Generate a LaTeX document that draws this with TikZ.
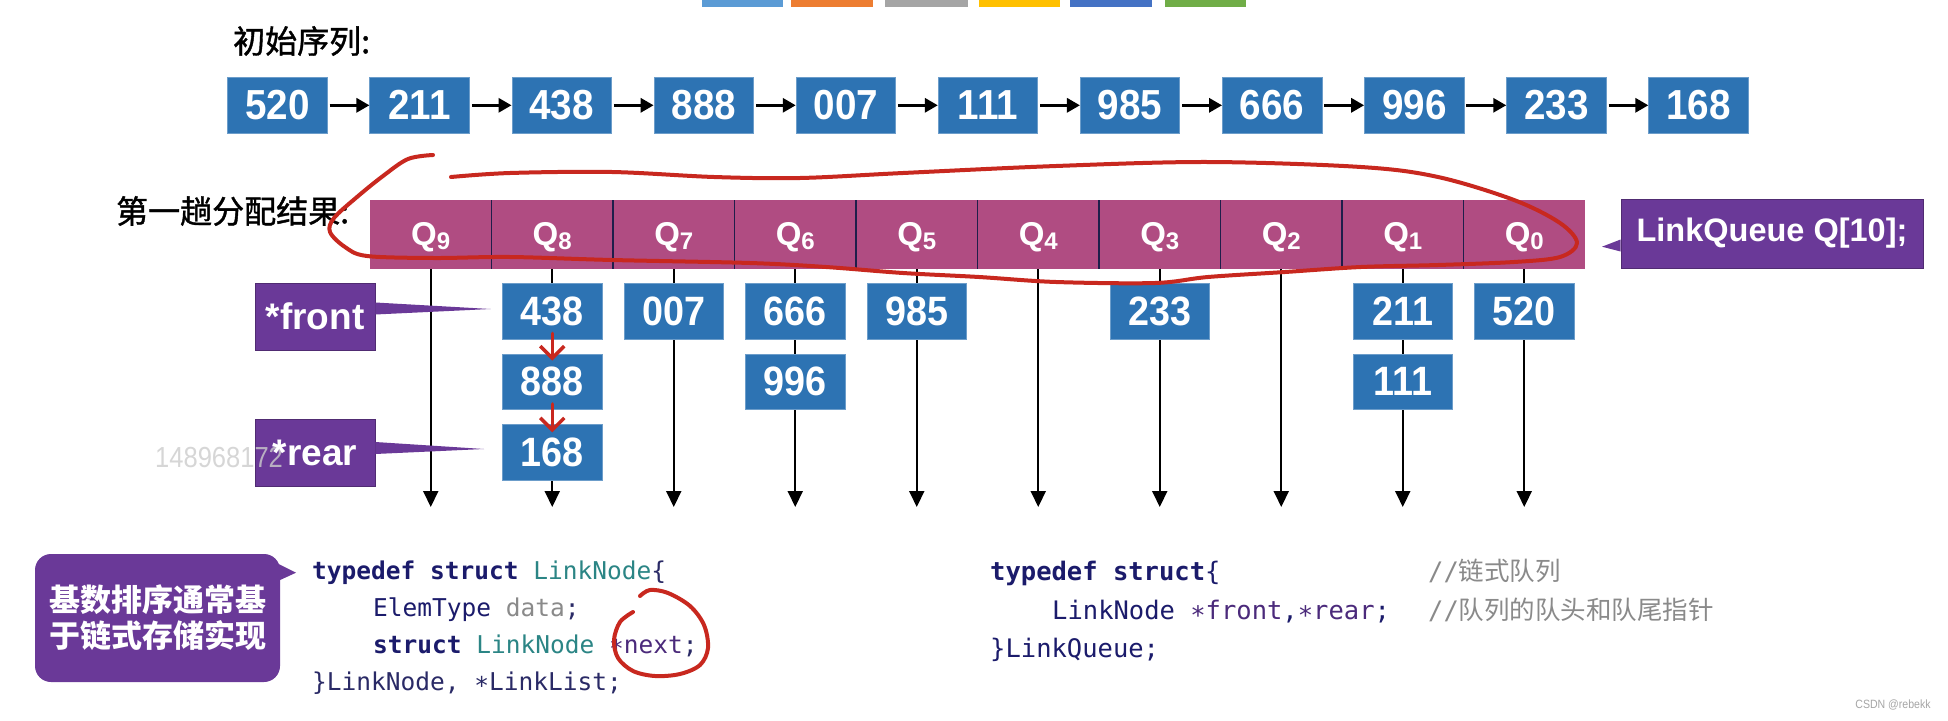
\documentclass[tikz,border=0pt]{standalone}
\usepackage{fontspec}
\setmainfont{Liberation Sans}
\newfontfamily\cjk{Noto Sans CJK SC}
\newfontfamily\cjkhead[FakeBold=1.2]{Noto Sans CJK SC}
\newfontfamily\numfont[FakeStretch=0.88]{Liberation Sans}
\newfontfamily\digfont[FakeStretch=0.92]{Liberation Sans Bold}
\newfontfamily\codefont{DejaVu Sans Mono}
\newcommand\lowstar{\raisebox{-0.2em}{*}}
\usetikzlibrary{arrows.meta}
\definecolor{boxblue}{HTML}{2D73B3}
\definecolor{qmag}{HTML}{B04C82}
\definecolor{qline}{HTML}{1E1E4A}
\definecolor{ppl}{HTML}{6A3998}
\definecolor{annred}{HTML}{C8281F}
\definecolor{kwnavy}{HTML}{1B1B6B}
\definecolor{codeteal}{HTML}{2B8585}
\definecolor{codegray}{HTML}{8A8A8A}
\definecolor{codepurple}{HTML}{4B2A7B}
\definecolor{codedark}{HTML}{2A2A66}
\definecolor{offblue}{HTML}{5B9BD5}
\definecolor{offorange}{HTML}{ED7D31}
\definecolor{offgray}{HTML}{A5A5A5}
\definecolor{offyellow}{HTML}{FFC000}
\definecolor{offblue2}{HTML}{4472C4}
\definecolor{offgreen}{HTML}{70AD47}
\begin{document}
\begin{tikzpicture}[x=1pt,y=-1pt,
  topbox/.style={fill=boxblue, draw=boxblue!70!white, line width=0.8pt, minimum width=99.5pt, minimum height=56pt, inner sep=0pt, text=white, font=\digfont\fontsize{42}{42}\selectfont},
  valbox/.style={fill=boxblue, draw=boxblue!70!white, line width=0.8pt, minimum width=99.5pt, minimum height=55.5pt, inner sep=0pt, text=white, font=\digfont\fontsize{41}{41}\selectfont},
  qcell/.style={fill=qmag, draw=none, minimum width=121.5pt, minimum height=69pt, inner sep=0pt},
  qlab/.style={text=white, font=\bfseries\fontsize{33}{33}\selectfont, inner sep=0pt},
  pbox/.style={fill=ppl, draw=ppl!75!black, line width=0.8pt, text=white, inner sep=0pt, font=\bfseries\fontsize{37}{37}\selectfont},
  plabel/.style={text=white, inner sep=0pt, font=\bfseries\fontsize{37}{37}\selectfont},
  bubble/.style={fill=ppl, rounded corners=16pt, minimum width=245pt, minimum height=128pt, text=white, align=center, inner sep=0pt, font=\cjk\bfseries\fontsize{31}{36}\selectfont},
  flow/.style={-{Triangle[length=13pt,width=14pt]}, line width=3pt, shorten <=2pt},
  vline/.style={-{Triangle[length=16pt,width=15pt]}, line width=2pt},
  redarrow/.style={annred, line width=3.5pt, line cap=round, -{Straight Barb[length=12pt,width=24pt,line width=3.5pt]}},
  redink/.style={annred, line width=4pt, line cap=round, line join=round},
  codeL/.style={anchor=base west, inner sep=0pt, text=codedark, font=\codefont\fontsize{24.5}{24.5}\selectfont},
  codeR/.style={anchor=base west, inner sep=0pt, text=kwnavy, font=\codefont\fontsize{25.5}{25.5}\selectfont},
  heading/.style={anchor=west, inner sep=0pt, text=black, font=\cjkhead\fontsize{32}{32}\selectfont}
]
\useasboundingbox (0,0) rectangle (1948,720);
\fill[white] (0,0) rectangle (1948,720);

% palette squares at the very top
\fill[offblue]   (702,0) rectangle (783,7);
\fill[offorange] (791,0) rectangle (873,7);
\fill[offgray]   (885,0) rectangle (968,7);
\fill[offyellow] (979,0) rectangle (1060,7);
\fill[offblue2]  (1070,0) rectangle (1152,7);
\fill[offgreen]  (1165,0) rectangle (1246,7);

% initial sequence
\node[heading] (h1) at (233,41) {初始序列:};
\foreach \val [count=\k from 0] in {520,211,438,888,007,111,985,666,996,233,168} {
  \node[topbox] (t\k) at ({277.5+142.1*\k},105.3) {\val};
}
\foreach \k [evaluate=\k as \n using int(\k+1)] in {0,...,9} {
  \draw[flow] (t\k) -- (t\n);
}

% first distribution
\node[heading] (h2) at (116,211) {第一趟分配结果:};
\foreach \i [count=\k from 0] in {9,...,0} {
  \pgfmathsetmacro\cx{430.75+121.5*\k}
  \node[qcell] (q\i) at (\cx,234.5) {};
  \coordinate (e\i) at (\cx,507);
}
\foreach \j in {1,...,9} {
  \draw[qline, line width=1.5pt] ({370+121.5*\j},200) -- ({370+121.5*\j},269);
}
\foreach \i [count=\k from 0] in {9,...,0} {
  \pgfmathsetmacro\cx{430.75+121.5*\k}
  \node[qlab] (ql\i) at (\cx,237.5) {Q{\fontsize{24}{24}\selectfont\raisebox{-4pt}{\i}}};
  \draw[vline] (q\i.south) -- (e\i);
}

% LinkQueue callout
\node[pbox, minimum width=302pt, minimum height=69pt, font=\bfseries\fontsize{32.5}{32.5}\selectfont] (lq) at (1772,233.5) {LinkQueue Q[10];};
\coordinate (lqtip) at (1602,246.7);
\fill[ppl] ([yshift=-6pt]lq.west) -- (lqtip) -- ([yshift=-18pt]lq.west) -- cycle;

% bucket contents
\node[valbox] (v438) at (552.25,311.2) {438};
\node[valbox] (v888) at (552.25,381.8) {888};
\node[valbox] (v168) at (552.25,452.6) {168};
\node[valbox] (v007) at (673.75,311.2) {007};
\node[valbox] (v666) at (795.25,311.2) {666};
\node[valbox] (v996) at (795.25,381.8) {996};
\node[valbox] (v985) at (916.75,311.2) {985};
\node[valbox] (v233) at (1159.75,311.2) {233};
\node[valbox] (v211) at (1402.75,311.2) {211};
\node[valbox] (v111) at (1402.75,381.8) {111};
\node[valbox] (v520) at (1524.25,311.2) {520};

% front / rear pointers
\node[pbox, minimum width=120pt, minimum height=67pt] (front) at (315,316.5) {*front};
\coordinate (ftip) at (490.6,309);
\fill[ppl] ([yshift=14pt]front.east) -- (ftip) -- ([yshift=2pt]front.east) -- cycle;
\node[pbox, minimum width=120pt, minimum height=67pt] (rear) at (315,453) {};
\coordinate (rtip) at (484,449);
\fill[ppl] ([yshift=11pt]rear.east) -- (rtip) -- ([yshift=-1pt]rear.east) -- cycle;
\node[anchor=base west, inner sep=0pt, text=gray!40, opacity=0.8, font=\numfont\fontsize{29}{29}\selectfont] (wm) at (155,467) {148968172};
\node[plabel] (reartxt) at (rear.center) {*rear};

% red hand-drawn annotations
\draw[redarrow] ([yshift=6pt]v438.south) -- ([yshift=-7pt]v888.north);
\draw[redarrow] ([yshift=6pt]v888.south) -- ([yshift=-8pt]v168.north);
\draw[redink] plot[smooth, tension=0.55] coordinates {
  (451,177) (510,173) (612,172) (714,177) (800,178) (903,173) (1056,166) (1208,162)
  (1361,167) (1438,177) (1514,200) (1560,223) (1577,243) (1560,257) (1514,262)
  (1438,265) (1361,267) (1285,272) (1208,277) (1155,283) (1056,282) (979,277)
  (903,273) (826,267) (750,263) (612,260) (510,257) (434,258) (367,256) (345,247)
  (330,232) (334,218) (357,197) (383,176) (408,159) (433,155)};

% speech bubble
\node[bubble] (bub) at (157.5,618) {基数排序通常基\\于链式存储实现};
\coordinate (btip) at (296,572.7);
\fill[ppl] ([xshift=-4pt,yshift=-9pt]bub.north east) -- (btip) -- ([xshift=-4pt,yshift=-28pt]bub.north east) -- cycle;

% left code
\node[codeL] (c1) at (312,579) {{\bfseries\color{kwnavy}typedef struct} {\color{codeteal}LinkNode}\{};
\node[codeL] (c2) at (373,616) {{\color{kwnavy}ElemType} {\color{codegray}data};};
\node[codeL] (c3) at (373,653) {{\bfseries\color{kwnavy}struct} {\color{codeteal}LinkNode} {\color{codepurple}\lowstar next};};
\node[codeL] (c4) at (312,690) {\}LinkNode, \lowstar LinkList;};
\draw[redink] plot[smooth, tension=0.55] coordinates {
  (633,612) (620,622) (614,640) (618,658) (633,671) (655,676) (680,674) (700,665)
  (708,648) (704,625) (690,606) (668,593) (650,590) (640,596)};

% right code
\node[codeR] (d1) at (990,580) {{\bfseries typedef struct}\{};
\node[codeR, text=codegray] (d1c) at (1428,580) {//{\cjk 链式队列}};
\node[codeR] (d2) at (1052,619) {LinkNode {\color{codepurple}\lowstar front},{\color{codepurple}\lowstar rear};};
\node[codeR, text=codegray] (d2c) at (1428,619) {//{\cjk 队列的队头和队尾指针}};
\node[codeR] (d3) at (990,657) {\}LinkQueue;};

\node[text=gray!70, inner sep=0pt, font=\numfont\fontsize{12}{12}\selectfont] (csdn) at (1893,705) {CSDN @rebekk};
\end{tikzpicture}
\end{document}
